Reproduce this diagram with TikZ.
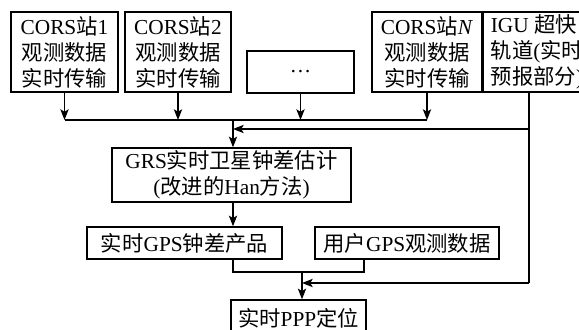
\documentclass[tikz,border=0pt]{standalone}
\usepackage{fontspec}
\setmainfont{Liberation Serif}
\newfontfamily\cjk{Noto Sans CJK SC}
\newcommand{\zh}[1]{{\cjk #1}}
\usetikzlibrary{arrows.meta}

\tikzset{every picture/.style={line width=0.75pt}}
\tikzset{
  box/.style={draw, line width=1.1pt, inner sep=0pt, align=center, font=\fontsize{16}{19.5}\selectfont},
  flow/.style={line width=1pt, -{Stealth[length=8pt,width=6.2pt,inset=1.8pt]}},
  wire/.style={line width=1pt},
}

\begin{document}
\begin{tikzpicture}[x=0.75pt,y=0.75pt,yscale=-1,xscale=1]
    \useasboundingbox (0,0) rectangle (579,329);

    %Stations
    \node[box, minimum width=80.25pt, minimum height=60pt] (c1) at (64.5,52) {CORS\zh{站}1\\\zh{观测数据}\\\zh{实时传输}};
    \node[box, minimum width=79.5pt, minimum height=60pt] (c2) at (178,52) {CORS\zh{站}2\\\zh{观测数据}\\\zh{实时传输}};
    \node[box, minimum width=80.25pt, minimum height=31.5pt] (dots) at (300.5,72) {\dots};
    \node[box, minimum width=82.5pt, minimum height=60pt] (cN) at (427,52) {CORS\zh{站}\textit{N}\\\zh{观测数据}\\\zh{实时传输}};
    %Orbit
    \node[box, align=left, minimum width=81pt, minimum height=60pt] (igu) at (537,52) {IGU \zh{超快}\\\zh{轨道}(\zh{实时}\\\zh{预报部分})};

    %Estimation and products
    \node[box, minimum width=179.25pt, minimum height=40.5pt] (grs) at (231.5,175) {GRS\zh{实时卫星钟差估计}\\(\zh{改进的}Han\zh{方法})};
    \node[box, minimum width=146.25pt, minimum height=24pt] (prod) at (184.5,243) {\zh{实时}GPS\zh{钟差产品}};
    \node[box, minimum width=138pt, minimum height=24pt] (user) at (407,243) {\zh{用户}GPS\zh{观测数据}};
    \node[box, minimum width=101.25pt, minimum height=27pt] (ppp) at (298.5,318) {\zh{实时}PPP\zh{定位}};

    %Junctions
    \coordinate (bus) at (233,120);
    \coordinate (orb) at (233,129);
    \coordinate (merge) at (302,272);
    \coordinate (uj) at (364,272);
    \coordinate (igudrop) at (529,283);

    %Station lines
    \draw[flow] (c1.south) -- (c1.south |- bus);
    \draw[flow] (c2.south) -- (c2.south |- bus);
    \draw[flow] (dots.south) -- (dots.south |- bus);
    \draw[flow] (cN.south) -- (cN.south |- bus);
    \draw[wire] (c1.south |- bus) -- (cN.south |- bus);
    \draw[flow] (bus) -- (bus |- grs.north);

    %Orbit lines
    \draw[wire] (igudrop |- igu.south) -- (igudrop);
    \draw[flow] (igudrop |- orb) -- (orb);
    \draw[flow] (igudrop) -- (merge |- igudrop);

    %Products to positioning
    \draw[flow] (bus |- grs.south) -- (bus |- prod.north);
    \draw[wire] (bus |- prod.south) |- (uj) -- (uj |- user.south);
    \draw[flow] (merge) -- (merge |- ppp.north);

\end{tikzpicture}
\end{document}
